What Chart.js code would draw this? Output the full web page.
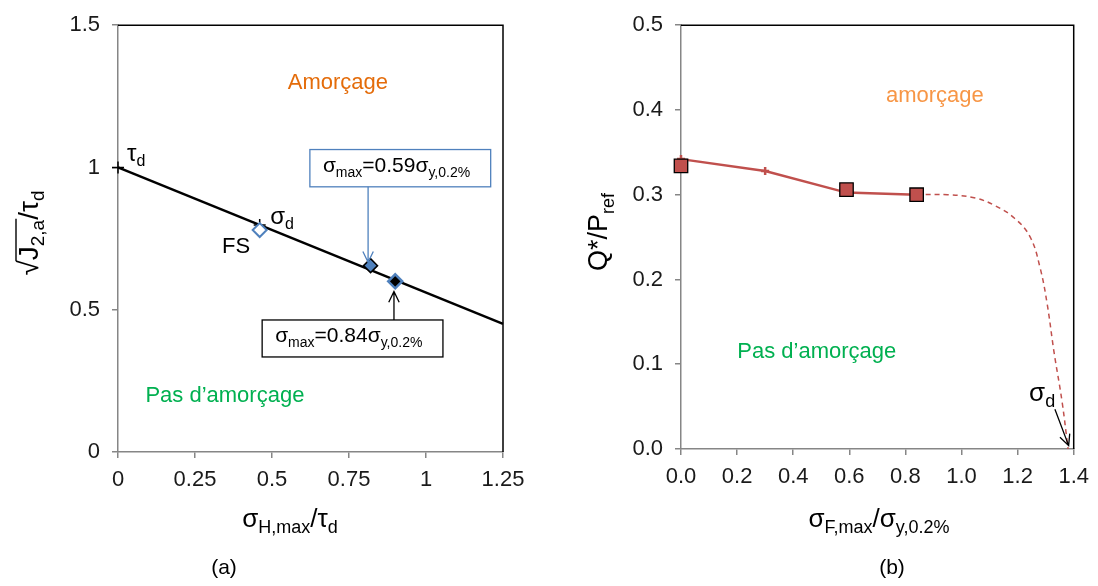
<!DOCTYPE html>
<html>
<head>
<meta charset="utf-8">
<script src="https://cdn.jsdelivr.net/npm/chart.js@4.4.0/dist/chart.umd.min.js"></script>
<style>
body{margin:0;background:#fff;width:1098px;height:586px;overflow:hidden;position:relative}
.wrap{position:absolute;top:0;height:586px}
#wa{left:0;width:540px}
#wb{left:560px;width:538px}
</style>
</head>
<body>
<div class="wrap" id="wa"><canvas id="chartA"></canvas></div>
<div class="wrap" id="wb"><canvas id="chartB"></canvas></div>
<script>
// ---- (a) droite de Crossland ----
var lineAX=[0,1.25];
var lineAY=[1,0.45];
var crossAX=[0,0.46];          // reperes tau_d et sigma_d
var crossAY=[1,0.798];
var fsX=[0.46];
var fsY=[0.78];
var p59X=[0.82];
var p59Y=[0.655];
var p84X=[0.90];
var p84Y=[0.60];
var ticksAX=[0,0.25,0.5,0.75,1,1.25];
var ticksAY=[0,0.5,1,1.5];

// ---- (b) Q*/Pref ----
var solidBX=[0,0.3,0.59,0.84];
var solidBY=[0.342,0.328,0.3025,0.300];
var sqBX=[0,0.59,0.84];
var sqBY=[0.334,0.306,0.300];
var dashBX=[0.84,0.95,1.05,1.12,1.19,1.245,1.28,1.305,1.33,1.358,1.38];
var dashBY=[0.300,0.300,0.296,0.287,0.272,0.250,0.214,0.172,0.114,0.057,0];
var ticksBX=[0,0.2,0.4,0.6,0.8,1.0,1.2,1.4];
var ticksBY=[0,0.1,0.2,0.3,0.4,0.5];

var FONT='"Liberation Sans", Arial, sans-serif';
var AXC='#868686';

function pts(xs,ys){return xs.map(function(x,i){return {x:x,y:ys[i]};});}

function rich(ctx,parts,x,y,size,color,align){
  var sub=Math.round(size*0.68);
  var w=0;
  parts.forEach(function(p){ctx.font=(p[1]?sub:size)+'px '+FONT;w+=ctx.measureText(p[0]).width;});
  var cx=align=='center'?x-w/2:x;
  ctx.fillStyle=color;ctx.textBaseline='middle';ctx.textAlign='left';
  var spans=[];
  parts.forEach(function(p){
    ctx.font=(p[1]?sub:size)+'px '+FONT;
    ctx.fillText(p[0],cx,y+(p[1]?size*0.32:0));
    var pw=ctx.measureText(p[0]).width;
    spans.push([cx,cx+pw]);cx+=pw;
  });
  return spans;
}

function arrow(ctx,x1,y1,x2,y2,color){
  var a=Math.atan2(y2-y1,x2-x1),h=12,s=0.45;
  ctx.save();
  ctx.strokeStyle=color;ctx.lineWidth=1.3;
  ctx.beginPath();ctx.moveTo(x1,y1);ctx.lineTo(x2,y2);
  ctx.moveTo(x2-h*Math.cos(a-s),y2-h*Math.sin(a-s));ctx.lineTo(x2,y2);
  ctx.lineTo(x2-h*Math.cos(a+s),y2-h*Math.sin(a+s));
  ctx.stroke();ctx.restore();
}

function frame(chart){
  var c=chart.ctx,a=chart.chartArea;
  c.save();c.strokeStyle='#000';c.lineWidth=1.5;
  c.beginPath();c.moveTo(a.left,a.top);c.lineTo(a.right,a.top);c.lineTo(a.right,a.bottom);c.stroke();
  c.restore();
}

function scaleOpts(ticks,fmt,pad,fit){
  return {
    type:'linear',min:ticks[0],max:ticks[ticks.length-1],
    afterBuildTicks:function(s){s.ticks=ticks.map(function(v){return {value:v};});},
    afterFit:fit,
    grid:{display:true,drawOnChartArea:false,drawTicks:true,tickLength:6,color:AXC,lineWidth:1.5},
    border:{display:true,color:AXC,width:1.5},
    ticks:{font:{family:FONT,size:22},color:'#1a1a1a',padding:pad,callback:fmt}
  };
}

// annotations (coordonnees donnees)
var annA={
  box59:{x0:0.623,x1:1.21,yTop:1.063,yBot:0.932,arrowX:0.812,arrowTo:0.667},
  box84:{x0:0.468,x1:1.055,yTop:0.464,yBot:0.334,arrowX:0.896,arrowTo:0.564}
};

var extrasA={
  id:'extrasA',
  afterDraw:function(chart){
    var c=chart.ctx,sx=chart.scales.x,sy=chart.scales.y;
    var X=function(v){return sx.getPixelForValue(v);},Y=function(v){return sy.getPixelForValue(v);};
    frame(chart);
    c.save();
    c.font='22px '+FONT;c.textAlign='center';c.textBaseline='middle';
    c.fillStyle='#E46C0A';c.fillText('Amorçage',X(0.714),Y(1.297));
    c.fillStyle='#00B050';c.fillText('Pas d\u2019amorçage',X(0.347),Y(0.196));
    rich(c,[['τ',0],['d',1]],X(0.029),Y(1.046),24,'#000','left');
    rich(c,[['σ',0],['d',1]],X(0.494),Y(0.826),24,'#000','left');
    c.font='22px '+FONT;c.fillStyle='#000';c.textAlign='left';c.fillText('FS',X(0.338),Y(0.719));
    // boites
    var b=annA.box59;
    c.fillStyle='#fff';c.fillRect(X(b.x0),Y(b.yTop),X(b.x1)-X(b.x0),Y(b.yBot)-Y(b.yTop));
    c.strokeStyle='#4F81BD';c.lineWidth=1.3;c.strokeRect(X(b.x0),Y(b.yTop),X(b.x1)-X(b.x0),Y(b.yBot)-Y(b.yTop));
    rich(c,[['σ',0],['max',1],['=0.59',0],['σ',0],['y,0.2%',1]],X(b.x0)+13,(Y(b.yTop)+Y(b.yBot))/2-2,21,'#000','left');
    arrow(c,X(b.arrowX),Y(b.yBot),X(b.arrowX),Y(b.arrowTo),'#4F81BD');
    b=annA.box84;
    c.fillStyle='#fff';c.fillRect(X(b.x0),Y(b.yTop),X(b.x1)-X(b.x0),Y(b.yBot)-Y(b.yTop));
    c.strokeStyle='#000';c.lineWidth=1.3;c.strokeRect(X(b.x0),Y(b.yTop),X(b.x1)-X(b.x0),Y(b.yBot)-Y(b.yTop));
    rich(c,[['σ',0],['max',1],['=0.84',0],['σ',0],['y,0.2%',1]],X(b.x0)+13,(Y(b.yTop)+Y(b.yBot))/2-2,21,'#000','left');
    arrow(c,X(b.arrowX),Y(b.yTop),X(b.arrowX),Y(b.arrowTo),'#000');
    // titres d'axes
    rich(c,[['σ',0],['H,max',1],['/τ',0],['d',1]],290,520,26,'#000','center');
    c.font='21px '+FONT;c.fillStyle='#000';c.textAlign='center';c.fillText('(a)',224,568);
    c.translate(30,233);c.rotate(-Math.PI/2);
    var sp=rich(c,[['√',0],['J',0],['2,a',1],['/τ',0],['d',1]],0,0,28,'#000','center');
    c.strokeStyle='#000';c.lineWidth=1.4;c.beginPath();c.moveTo(sp[1][0]-1,-14);c.lineTo(sp[2][1]+1,-14);c.stroke();
    c.restore();
  }
};

var extrasB={
  id:'extrasB',
  afterDraw:function(chart){
    var c=chart.ctx,sx=chart.scales.x,sy=chart.scales.y;
    var X=function(v){return sx.getPixelForValue(v);},Y=function(v){return sy.getPixelForValue(v);};
    frame(chart);
    c.save();
    c.font='22px '+FONT;c.textAlign='center';c.textBaseline='middle';
    c.fillStyle='#F79646';c.fillText('amorçage',X(0.905),Y(0.417));
    c.fillStyle='#00B050';c.fillText('Pas d\u2019amorçage',X(0.484),Y(0.114));
    rich(c,[['σ',0],['d',1]],X(1.241),Y(0.065),26,'#000','left');
    arrow(c,X(1.333),Y(0.047),X(1.382),Y(0.004),'#000');
    rich(c,[['σ',0],['F,max',1],['/σ',0],['y,0.2%',1]],319,520,26,'#000','center');
    c.font='21px '+FONT;c.fillStyle='#000';c.textAlign='center';c.fillText('(b)',332,568);
    c.translate(40,232);c.rotate(-Math.PI/2);
    rich(c,[['Q*/P',0],['ref',1]],0,0,27,'#000','center');
    c.restore();
  }
};

var chartA=new Chart(document.getElementById('chartA'),{
  type:'scatter',
  data:{datasets:[
    {data:pts(p84X,p84Y),pointStyle:'rectRot',pointRadius:7,backgroundColor:'#000',borderColor:'#4F81BD',borderWidth:2.5},
    {data:pts(p59X,p59Y),pointStyle:'rectRot',pointRadius:7,backgroundColor:'#4F81BD',borderColor:'#000',borderWidth:1.5},
    {data:pts(fsX,fsY),pointStyle:'rectRot',pointRadius:7,backgroundColor:'#fff',borderColor:'#4F81BD',borderWidth:2},
    {data:pts(crossAX,crossAY),pointStyle:'cross',pointRadius:6,borderColor:'#000',borderWidth:1.5},
    {data:pts(lineAX,lineAY),showLine:true,pointRadius:0,borderColor:'#000',borderWidth:2.5}
  ]},
  options:{
    responsive:true,maintainAspectRatio:false,animation:false,clip:false,
    layout:{padding:{left:0,top:16,right:37,bottom:0}},
    plugins:{legend:{display:false},tooltip:{enabled:false}},
    scales:{
      x:scaleOpts(ticksAX,function(v){return String(v);},9,function(s){s.height=134;}),
      y:scaleOpts(ticksAY,function(v){return String(v);},12,function(s){s.width=118;})
    }
  },
  plugins:[extrasA]
});

var chartB=new Chart(document.getElementById('chartB'),{
  type:'scatter',
  data:{datasets:[
    {data:pts(sqBX,sqBY),pointStyle:'rect',pointRadius:9.5,backgroundColor:'#C0504D',borderColor:'#000',borderWidth:1.3,clip:false},
    {data:pts(solidBX,solidBY),showLine:true,pointStyle:'cross',pointRadius:4,borderColor:'#C0504D',borderWidth:2.5,clip:false},
    {data:pts(dashBX,dashBY),showLine:true,pointRadius:0,borderColor:'#C0504D',borderWidth:1.5,borderDash:[5,4],tension:0.4}
  ]},
  options:{
    responsive:true,maintainAspectRatio:false,animation:false,
    layout:{padding:{left:0,top:16,right:21,bottom:0}},
    plugins:{legend:{display:false},tooltip:{enabled:false}},
    scales:{
      x:scaleOpts(ticksBX,function(v){return v.toFixed(1);},9,function(s){s.height=137;}),
      y:scaleOpts(ticksBY,function(v){return v.toFixed(1);},12,function(s){s.width=121;})
    }
  },
  plugins:[extrasB]
});
</script>
</body>
</html>
